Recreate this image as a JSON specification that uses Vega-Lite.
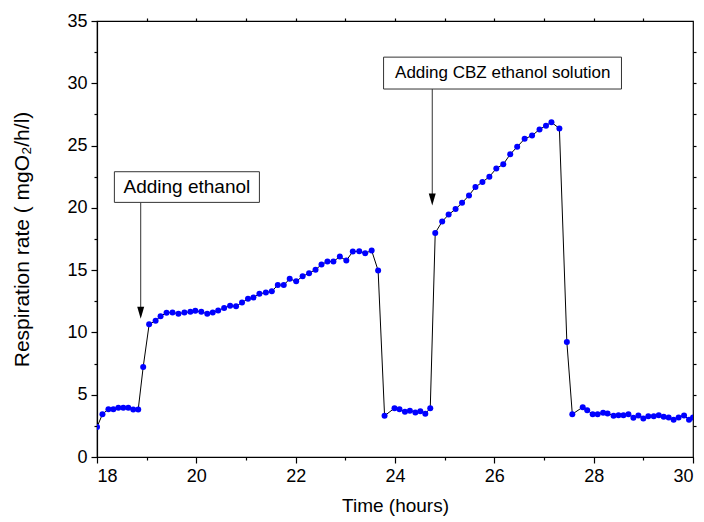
{
  "$schema": "https://vega.github.io/schema/vega-lite/v6.json",
  "width": 596,
  "height": 436,
  "autosize": "none",
  "padding": {"left": 97, "top": 21, "right": 11, "bottom": 65},
  "background": "white",
  "config": {
    "view": {"stroke": "black", "strokeWidth": 1.2},
    "font": "Liberation Sans",
    "axis": {
      "grid": false,
      "domainColor": "black",
      "domainWidth": 1.2,
      "tickColor": "black",
      "tickWidth": 1.2,
      "labelColor": "black",
      "labelFont": "Liberation Sans",
      "labelFontSize": 18,
      "titleFont": "Liberation Sans",
      "titleFontSize": 19,
      "titleFontWeight": "normal",
      "titleColor": "black"
    }
  },
  "datasets": {
    "series": [
      {"t": 18.0, "r": 2.4}, {"t": 18.11, "r": 3.44}, {"t": 18.23, "r": 3.84}, {"t": 18.33, "r": 3.84},
      {"t": 18.43, "r": 3.95}, {"t": 18.53, "r": 3.95}, {"t": 18.63, "r": 3.95}, {"t": 18.73, "r": 3.82},
      {"t": 18.83, "r": 3.82}, {"t": 18.93, "r": 7.23}, {"t": 19.05, "r": 10.65}, {"t": 19.18, "r": 10.94},
      {"t": 19.28, "r": 11.3}, {"t": 19.4, "r": 11.58}, {"t": 19.52, "r": 11.6}, {"t": 19.64, "r": 11.5},
      {"t": 19.76, "r": 11.6}, {"t": 19.88, "r": 11.65}, {"t": 19.98, "r": 11.74}, {"t": 20.1, "r": 11.65},
      {"t": 20.22, "r": 11.5}, {"t": 20.33, "r": 11.6}, {"t": 20.44, "r": 11.77}, {"t": 20.56, "r": 11.96},
      {"t": 20.68, "r": 12.15}, {"t": 20.8, "r": 12.1}, {"t": 20.92, "r": 12.4}, {"t": 21.04, "r": 12.7},
      {"t": 21.15, "r": 12.8}, {"t": 21.27, "r": 13.1}, {"t": 21.4, "r": 13.2}, {"t": 21.52, "r": 13.3},
      {"t": 21.64, "r": 13.8}, {"t": 21.76, "r": 13.8}, {"t": 21.88, "r": 14.3}, {"t": 22.01, "r": 14.1},
      {"t": 22.14, "r": 14.5}, {"t": 22.27, "r": 14.76}, {"t": 22.4, "r": 15.03}, {"t": 22.52, "r": 15.45},
      {"t": 22.64, "r": 15.69}, {"t": 22.76, "r": 15.69}, {"t": 22.89, "r": 16.09}, {"t": 23.02, "r": 15.77},
      {"t": 23.15, "r": 16.49}, {"t": 23.28, "r": 16.52}, {"t": 23.4, "r": 16.36}, {"t": 23.53, "r": 16.57},
      {"t": 23.66, "r": 14.97}, {"t": 23.79, "r": 3.31}, {"t": 23.99, "r": 3.92}, {"t": 24.09, "r": 3.84},
      {"t": 24.2, "r": 3.63}, {"t": 24.3, "r": 3.71}, {"t": 24.41, "r": 3.58}, {"t": 24.51, "r": 3.68},
      {"t": 24.61, "r": 3.47}, {"t": 24.71, "r": 3.92}, {"t": 24.81, "r": 17.99}, {"t": 24.95, "r": 18.9},
      {"t": 25.08, "r": 19.46}, {"t": 25.22, "r": 19.9}, {"t": 25.35, "r": 20.4}, {"t": 25.49, "r": 21.0},
      {"t": 25.62, "r": 21.67}, {"t": 25.76, "r": 22.07}, {"t": 25.9, "r": 22.5}, {"t": 26.04, "r": 23.16},
      {"t": 26.18, "r": 23.5}, {"t": 26.32, "r": 24.3}, {"t": 26.46, "r": 24.9}, {"t": 26.61, "r": 25.54},
      {"t": 26.76, "r": 25.8}, {"t": 26.91, "r": 26.3}, {"t": 27.04, "r": 26.6}, {"t": 27.15, "r": 26.87},
      {"t": 27.31, "r": 26.37}, {"t": 27.46, "r": 9.23}, {"t": 27.57, "r": 3.44}, {"t": 27.78, "r": 4.0},
      {"t": 27.87, "r": 3.76}, {"t": 27.98, "r": 3.44}, {"t": 28.08, "r": 3.44}, {"t": 28.19, "r": 3.55},
      {"t": 28.28, "r": 3.5}, {"t": 28.4, "r": 3.31}, {"t": 28.5, "r": 3.36}, {"t": 28.6, "r": 3.36},
      {"t": 28.7, "r": 3.44}, {"t": 28.8, "r": 3.15}, {"t": 28.9, "r": 3.34}, {"t": 29.0, "r": 3.1},
      {"t": 29.1, "r": 3.28}, {"t": 29.21, "r": 3.28}, {"t": 29.31, "r": 3.36}, {"t": 29.41, "r": 3.23},
      {"t": 29.51, "r": 3.18}, {"t": 29.61, "r": 3.0}, {"t": 29.71, "r": 3.18}, {"t": 29.82, "r": 3.34},
      {"t": 29.92, "r": 3.0}, {"t": 30.0, "r": 3.18}
    ],
    "notes": [
      {"label": "Adding ethanol", "size": 19, "bx1": 18.35, "bx2": 21.27, "by1": 20.44, "by2": 22.9, "tx": 19.81, "ty": 21.67, "ax": 18.88, "tip": 11.58},
      {"label": "Adding CBZ ethanol solution", "size": 17, "bx1": 23.77, "bx2": 28.56, "by1": 29.54, "by2": 32.1, "tx": 26.17, "ty": 30.82, "ax": 24.75, "tip": 20.68}
    ]
  },
  "layer": [
    {
      "data": {"name": "series"},
      "mark": {"type": "line", "color": "black", "strokeWidth": 1, "clip": true},
      "encoding": {
        "x": {"field": "t", "type": "quantitative", "scale": {"domain": [18, 30], "nice": false, "zero": false},
              "axis": {"values": [18, 20, 22, 24, 26, 28, 30], "tickSize": 6, "labelPadding": 4, "title": "Time (hours)", "titlePadding": 11}},
        "y": {"field": "r", "type": "quantitative", "scale": {"domain": [0, 35], "nice": false},
              "axis": {"values": [0, 5, 10, 15, 20, 25, 30, 35], "tickSize": 6, "labelPadding": 4, "title": "Respiration rate ( mgO₂/h/l)", "titleFontSize": 21, "titlePadding": 34}}
      }
    },
    {
      "data": {"name": "series"},
      "mark": {"type": "point", "filled": true, "color": "#0000FF", "opacity": 1, "size": 36, "clip": true},
      "encoding": {
        "x": {"field": "t", "type": "quantitative",
              "axis": {"orient": "bottom", "values": [19, 21, 23, 25, 27, 29], "labels": false, "domain": false, "tickSize": 3, "title": null}},
        "y": {"field": "r", "type": "quantitative",
              "axis": {"orient": "left", "values": [2.5, 7.5, 12.5, 17.5, 22.5, 27.5, 32.5], "labels": false, "domain": false, "tickSize": 3, "title": null}}
      }
    },
    {
      "data": {"name": "notes"},
      "mark": {"type": "rule", "color": "#333333", "strokeWidth": 1},
      "encoding": {
        "x": {"field": "ax", "type": "quantitative",
              "axis": {"orient": "top", "values": [19, 20, 21, 22, 23, 24, 25, 26, 27, 28, 29], "labels": false, "domain": false, "tickSize": 3, "title": null}},
        "y": {"field": "by1", "type": "quantitative",
              "axis": {"orient": "right", "values": [2.5, 5, 7.5, 10, 12.5, 15, 17.5, 20, 22.5, 25, 27.5, 30, 32.5], "labels": false, "domain": false, "tickSize": 3, "title": null}},
        "y2": {"field": "tip"}
      }
    },
    {
      "data": {"name": "notes"},
      "mark": {"type": "point", "shape": "M-0.58,-1L0.58,-1L0,1Z", "filled": true, "color": "black", "opacity": 1, "size": 144},
      "encoding": {
        "x": {"field": "ax", "type": "quantitative", "axis": null},
        "y": {"field": "tip", "type": "quantitative", "axis": null}
      }
    },
    {
      "data": {"name": "notes"},
      "mark": {"type": "rect", "fill": "white", "stroke": "#333333", "strokeWidth": 1},
      "encoding": {
        "x": {"field": "bx1", "type": "quantitative", "axis": null},
        "x2": {"field": "bx2"},
        "y": {"field": "by1", "type": "quantitative", "axis": null},
        "y2": {"field": "by2"}
      }
    },
    {
      "data": {"name": "notes"},
      "mark": {"type": "text", "font": "Liberation Sans", "color": "black", "align": "center", "baseline": "middle"},
      "encoding": {
        "x": {"field": "tx", "type": "quantitative", "axis": null},
        "y": {"field": "ty", "type": "quantitative", "axis": null},
        "text": {"field": "label"},
        "size": {"field": "size", "type": "quantitative", "scale": null}
      }
    }
  ],
  "resolve": {"axis": {"x": "independent", "y": "independent"}}
}
